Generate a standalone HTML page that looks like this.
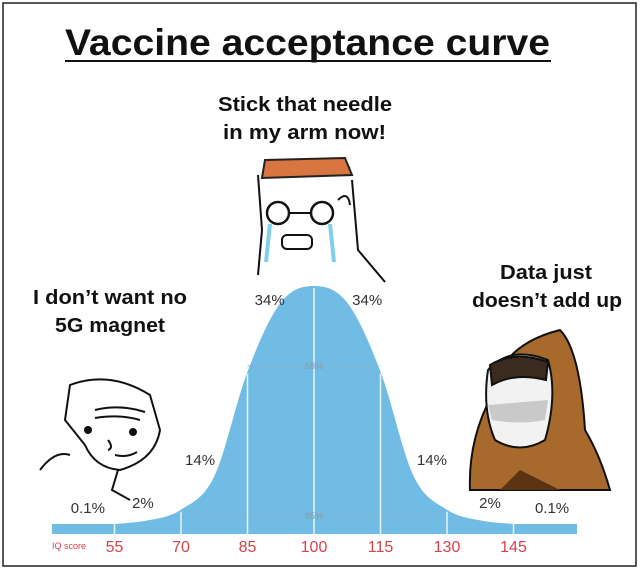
<!DOCTYPE html>
<html><head><meta charset="utf-8">
<style>
html,body{margin:0;padding:0;background:#fff;}
svg{display:block;}
.cap{font-family:"Liberation Sans",sans-serif;font-weight:bold;fill:#111;}
.pct{font-family:"Liberation Sans",sans-serif;font-size:15px;fill:#333;}
.tick{font-family:"Liberation Sans",sans-serif;font-size:16px;fill:#d4434b;}
</style></head>
<body>
<svg id="chart" width="640" height="570" viewBox="0 0 640 570">
<rect x="3" y="3" width="633" height="563" fill="#fff" stroke="#222" stroke-width="1.5"/>
<text class="cap" x="65" y="55" font-size="37" textLength="485" lengthAdjust="spacingAndGlyphs">Vaccine acceptance curve</text>
<line x1="65" y1="61" x2="551" y2="61" stroke="#111" stroke-width="2"/>
<text class="cap" x="218" y="111" font-size="20" textLength="174" lengthAdjust="spacingAndGlyphs">Stick that needle</text>
<text class="cap" x="223" y="139" font-size="20" textLength="163" lengthAdjust="spacingAndGlyphs">in my arm now!</text>
<text class="cap" x="33" y="304" font-size="20" textLength="154" lengthAdjust="spacingAndGlyphs">I don’t want no</text>
<text class="cap" x="55" y="332" font-size="20" textLength="110" lengthAdjust="spacingAndGlyphs">5G magnet</text>
<text class="cap" x="500" y="279" font-size="20" textLength="92" lengthAdjust="spacingAndGlyphs">Data just</text>
<text class="cap" x="472" y="307" font-size="20" textLength="150" lengthAdjust="spacingAndGlyphs">doesn’t add up</text>

<g fill="none" stroke="#111" stroke-width="2">
<path d="M258 175 L262 230 L258 275 M352 180 L358 250 L385 282" />
<path d="M262 175 Q300 150 350 168" fill="#c8643a" stroke="#222"/>
<path d="M265 160 L345 158 L352 175 L262 178 Z" fill="#d9753f" stroke="#222"/>
<circle cx="278" cy="213" r="11" stroke-width="2.5"/>
<circle cx="322" cy="213" r="11" stroke-width="2.5"/>
<line x1="289" y1="213" x2="311" y2="213"/>
<rect x="282" y="235" width="30" height="14" rx="5" fill="#fff"/>
<path d="M270 224 L266 262 M330 224 L334 262" stroke="#7fd0e8" stroke-width="4"/>
<path d="M338 200 q10 -10 12 5" />
</g>

<g fill="none" stroke="#111" stroke-width="2">
<path d="M70 385 Q110 370 150 395 L160 430 Q155 460 120 470 Q95 468 85 445 L65 420 Z" fill="#fff"/>
<path d="M95 410 q25 -6 50 2 M95 418 q25 -4 45 2"/>
<circle cx="88" cy="430" r="3" fill="#111"/><circle cx="133" cy="432" r="3" fill="#111"/>
<path d="M108 440 q6 8 0 10 M115 455 q12 3 22 -3"/>
<path d="M40 470 Q55 450 70 455 M118 470 L112 490 L130 500"/>
</g>

<g stroke="#111" stroke-width="2">
<path d="M470 490 Q468 440 492 395 Q500 345 560 330 Q580 350 585 430 Q600 455 610 490 Z" fill="#a8692c"/>
<path d="M488 370 Q510 345 548 360 Q558 395 545 440 Q520 455 495 440 Q482 410 488 370 Z" fill="#f2f2f2"/>
<path d="M490 365 Q515 350 548 362 L546 380 Q515 372 492 385 Z" fill="#3a2a20"/>
<path d="M488 405 L548 400 L545 420 Q520 425 492 420 Z" fill="#c9c9c9" stroke="none"/>
<path d="M520 470 Q540 480 560 490 L500 490 Z" fill="#5a3315" stroke="none"/>
</g>

<g id="plot"></g>
</svg>
<script>
const tickValues=[55,70,85,100,115,130,145];
const curveIQ=[55,62.5,70,77.5,85,92.5,100,107.5,115,122.5,130,137.5,145];
const curveHeight=[0,0.015,0.06,0.2,0.64,0.93,1,0.93,0.64,0.2,0.06,0.015,0];
const pctLabels=["0.1%","2%","14%","34%","34%","14%","2%","0.1%"];
const pctIQ=[49,61.4,74.3,90,112,126.6,139.7,153.7];
const pctLevel=[0.126,0.147,0.328,1.0,1.0,0.328,0.147,0.126];

const NS="http://www.w3.org/2000/svg";
const g=document.getElementById('plot');
const xs=v=>314+(v-100)*66.5/15;
const base=524, H=238;
const ys=h=>base-h*H;
function mk(t,a){const e=document.createElementNS(NS,t);for(const k in a)e.setAttribute(k,a[k]);g.appendChild(e);return e;}

const band=mk('rect',{x:52,y:524,width:525,height:10,fill:'#70bce4'});



let pts=curveIQ.map((v,i)=>[xs(v),ys(curveHeight[i])]);
let d='M'+pts[0][0]+' '+pts[0][1];
for(let i=0;i<pts.length-1;i++){
 const p0=pts[Math.max(0,i-1)],p1=pts[i],p2=pts[i+1],p3=pts[Math.min(pts.length-1,i+2)];
 const c1=[p1[0]+(p2[0]-p0[0])/6,p1[1]+(p2[1]-p0[1])/6];
 const c2=[p2[0]-(p3[0]-p1[0])/6,p2[1]-(p3[1]-p1[1])/6];
 d+=` C${c1[0]} ${c1[1]} ${c2[0]} ${c2[1]} ${p2[0]} ${p2[1]}`;
}
d+=` L${xs(145)} ${base+1} L${xs(55)} ${base+1} Z`;
const curve=mk('path',{d:d,fill:'#70bce4'});



function heightAt(v){for(let i=0;i<curveIQ.length-1;i++){if(v>=curveIQ[i]&&v<=curveIQ[i+1]){const t=(v-curveIQ[i])/(curveIQ[i+1]-curveIQ[i]);return curveHeight[i]+t*(curveHeight[i+1]-curveHeight[i]);}}return 0;}

const d68=mk('line',{x1:xs(85),x2:xs(115),y1:366,y2:366,stroke:'#8fa8b8','stroke-dasharray':'2 2','stroke-width':1});


const d95=mk('line',{x1:xs(70),x2:xs(130),y1:516,y2:516,stroke:'#8fa8b8','stroke-dasharray':'2 2','stroke-width':1});



tickValues.forEach(v=>{
 const top=(v===55||v===145)?base:ys(heightAt(v))+2;
 const l=mk('line',{x1:xs(v),x2:xs(v),y1:top,y2:534,stroke:'#e8f4fb','stroke-width':1.5});
 
 
 const t=mk('text',{x:xs(v),y:552,'text-anchor':'middle',class:'tick'});
 t.textContent=v;
 
 
});
const iq=mk('text',{x:52,y:549,'font-size':9,fill:'#d4434b','font-family':'Liberation Sans, sans-serif'});
iq.textContent='IQ score';



const t68=mk('text',{x:314,y:369,'text-anchor':'middle','font-size':9,fill:'#8a9aa6','font-family':'Liberation Sans, sans-serif'});
t68.textContent='68%';


const t95=mk('text',{x:314,y:519,'text-anchor':'middle','font-size':9,fill:'#8a9aa6','font-family':'Liberation Sans, sans-serif'});
t95.textContent='95%';



pctLabels.forEach((s,i)=>{
 const t=mk('text',{x:xs(pctIQ[i]),y:ys(pctLevel[i])+19,'text-anchor':'middle',class:'pct'});
 t.textContent=s;
 
 
});
</script>
</body></html>
